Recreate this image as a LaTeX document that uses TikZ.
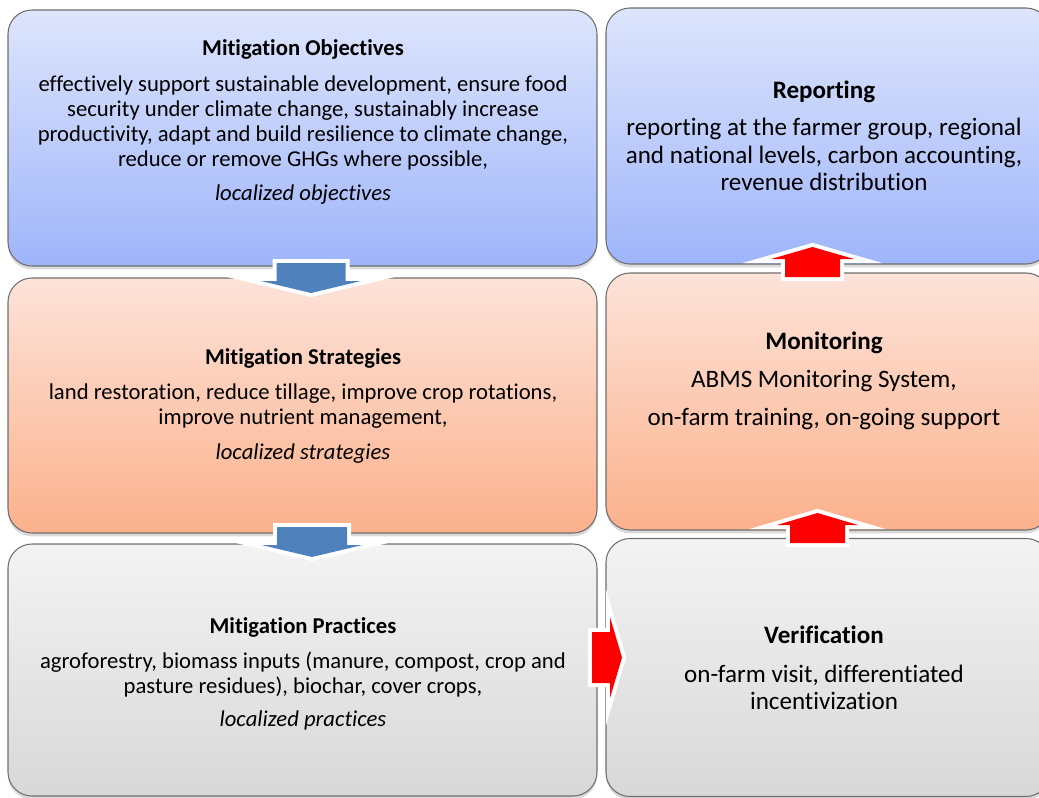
\documentclass[tikz,border=0pt]{standalone}
\usepackage{fontspec}
\setmainfont{Carlito}[Ligatures=NoCommon]
\usetikzlibrary{shadows}

\definecolor{blueTop}{HTML}{DDE5FC}
\definecolor{blueBot}{HTML}{9FB5FA}
\definecolor{peachTop}{HTML}{FDE3D9}
\definecolor{peachBot}{HTML}{FBB18C}
\definecolor{greyTop}{HTML}{F3F3F3}
\definecolor{greyBot}{HTML}{D8D8D8}
\definecolor{panelRim}{HTML}{6E6E6E}
\definecolor{arrowBlue}{HTML}{4F81BD}
\definecolor{arrowRed}{HTML}{FF0000}

% block arrow: base of head at #1, direction #2, colour #3, shaft and head half widths #4, #5
\newcommand\flowarrow[5]{%
  \draw[arrowrim, shift={(#1)}, rotate=#2]
    (-18,-#4) -- (0,-#4) -- (0,-#5) -- (12,0) -- (0,#5) -- (0,#4) -- (-18,#4) -- cycle;
  \fill[#3, shift={(#1)}, rotate=#2]
    (-18,-#4) -- (0,-#4) -- (0,-#5) -- (12,0) -- (0,#5) -- (0,#4) -- (-18,#4) -- cycle;
}

\begin{document}
\begin{tikzpicture}[
    x = 0.75pt, y = -0.75pt, % pixel grid, y going down
    panel/.style = {draw = panelRim, line width = 0.8pt, rounded corners = 18pt,
      inner sep = 0pt, outer sep = 0pt,
      drop shadow = {shadow xshift = 0pt, shadow yshift = -2.5pt, opacity = .3}},
    leftpanel/.style = {panel, minimum width = 441.75pt},
    rightpanel/.style = {panel, minimum width = 333pt},
    bluepanel/.style = {top color = blueTop, bottom color = blueBot},
    peachpanel/.style = {top color = peachTop, bottom color = peachBot},
    greypanel/.style = {top color = greyTop, bottom color = greyBot},
    lefttext/.style = {align = center, inner sep = 0pt, font = \fontsize{17}{18.75}\selectfont},
    righttext/.style = {align = center, inner sep = 0pt, font = \fontsize{18.8}{20.6}\selectfont},
    arrowrim/.style = {draw = white, line width = 6pt, miter limit = 12},
  ]

  \useasboundingbox (0,0) rectangle (1039,797);
  \clip (0,0) rectangle (1039,797);

  % left column
  \node[leftpanel, bluepanel, minimum height = 192pt] (obj) at (302.5,138) {};
  \node[leftpanel, peachpanel, minimum height = 191.25pt] (strat) at (302.5,405.5) {};
  \node[leftpanel, greypanel, minimum height = 189pt] (prac) at (302.5,670) {};

  % right column
  \node[rightpanel, bluepanel, minimum height = 192pt] (rep) at (828,136) {};
  \node[rightpanel, peachpanel, minimum height = 192.75pt] (mon) at (828,401.5) {};
  \node[rightpanel, greypanel, minimum height = 193.5pt] (ver) at (828,667.5) {};

  \node[lefttext] (objtext) at (303,122) {\textbf{Mitigation Objectives}\\[8pt]
    effectively support sustainable development, ensure food\\
    security under climate change, sustainably increase\\
    productivity, adapt and build resilience to climate change,\\
    reduce or remove GHGs where possible,\\[6.5pt]
    \textit{localized objectives}};
  \node[lefttext] (strattext) at (303,406) {\textbf{Mitigation Strategies}\\[7.5pt]
    land restoration, reduce tillage, improve crop rotations,\\
    improve nutrient management,\\[7pt]
    \textit{localized strategies}};
  \node[lefttext] (practext) at (303,674) {\textbf{Mitigation Practices}\\[7.5pt]
    agroforestry, biomass inputs (manure, compost, crop and\\
    pasture residues), biochar, cover crops,\\[5.5pt]
    \textit{localized practices}};

  \node[righttext] (reptext) at (824,136) {\textbf{Reporting}\\[7pt]
    reporting at the farmer group, regional\\
    and national levels, carbon accounting,\\
    revenue distribution};
  \node[righttext] (montext) at (824,381) {\textbf{Monitoring}\\[8pt]
    ABMS Monitoring System,\\[8pt]
    on-farm training, on-going support};
  \node[righttext] (vertext) at (824,668) {\textbf{Verification}\\[8pt]
    on-farm visit, differentiated\\
    incentivization};

  % arrows between the panels
  \coordinate (objdown) at (311,281);
  \coordinate (stratdown) at (312,545);
  \coordinate (pracright) at (610,657.5);
  \coordinate (verup) at (817.5,525);
  \coordinate (monup) at (812.5,259);

  \flowarrow{objdown}{-90}{arrowBlue}{34.5}{50}
  \flowarrow{stratdown}{-90}{arrowBlue}{35}{50.5}
  \flowarrow{pracright}{0}{arrowRed}{25.5}{40.5}
  \flowarrow{verup}{90}{arrowRed}{27.5}{40.5}
  \flowarrow{monup}{90}{arrowRed}{27.5}{41.5}

\end{tikzpicture}
\end{document}
